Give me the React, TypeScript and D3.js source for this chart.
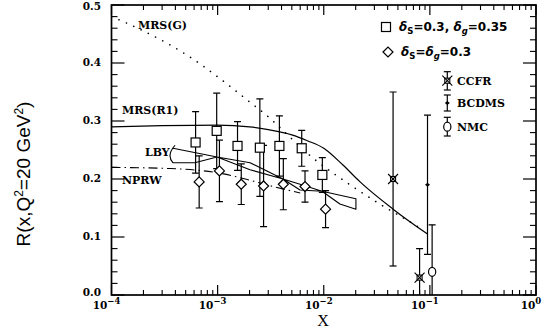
import React from "react";
import * as d3 from "d3";

// ---- data ----
const sqX = [6.2e-4, 9.8e-4, 1.54e-3, 2.5e-3, 3.82e-3, 6.2e-3, 9.7e-3];
const sqR = [0.263, 0.283, 0.257, 0.254, 0.257, 0.253, 0.207];
const sqErr = [0.053, 0.065, 0.042, 0.084, 0.052, 0.031, 0.03];

const diaX = [6.7e-4, 1.04e-3, 1.67e-3, 2.71e-3, 4.16e-3, 6.66e-3, 1.04e-2];
const diaR = [0.195, 0.214, 0.191, 0.188, 0.191, 0.187, 0.148];
const diaErr = [0.045, 0.053, 0.035, 0.07, 0.044, 0.027, 0.032];

const ccfrX = [0.045, 0.08];
const ccfrR = [0.2, 0.03];
const ccfrErr = [0.15, 0.05];

const bcdmsX = [0.095];
const bcdmsR = [0.19];
const bcdmsErr = [0.12];

const nmcX = [0.105];
const nmcR = [0.04];
const nmcErr = [0.081];

const mrsR1X = [1e-4, 3e-4, 1e-3, 2e-3, 3e-3, 5e-3, 7e-3, 1e-2, 1.5e-2, 2.2e-2, 4.5e-2, 9.5e-2];
const mrsR1R = [0.29, 0.292, 0.293, 0.29, 0.285, 0.276, 0.266, 0.253, 0.225, 0.195, 0.148, 0.105];

const mrsGX = [1e-4, 1.5e-4, 5.1e-4, 2e-3, 3.1e-3, 3.9e-3, 7.7e-3, 1.77e-2, 3.5e-2, 6.5e-2, 8.5e-2];
const mrsGR = [0.48, 0.466, 0.414, 0.333, 0.305, 0.288, 0.238, 0.19, 0.155, 0.126, 0.113];

const nprwX = [1e-4, 3.6e-4, 1.05e-3, 2e-3, 3.5e-3, 6e-3];
const nprwR = [0.22, 0.218, 0.21, 0.198, 0.186, 0.176];

const lbyAX = [3.8e-4, 9.87e-4, 2.02e-3, 4.13e-3, 5.98e-3, 9.64e-3, 2.01e-2];
const lbyAR = [0.253, 0.238, 0.228, 0.2, 0.191, 0.179, 0.166];
const lbyBX = [3.8e-4, 6.1e-4, 9.87e-4, 2.02e-3, 4.13e-3, 5.98e-3, 9.64e-3, 1.42e-2, 2.01e-2];
const lbyBR = [0.228, 0.228, 0.238, 0.216, 0.2, 0.181, 0.179, 0.157, 0.148];

const yMajor = [0, 0.1, 0.2, 0.3, 0.4, 0.5];
const yMajorLabels = ["0.0", "0.1", "0.2", "0.3", "0.4", "0.5"];
const xMajor = [1e-4, 1e-3, 1e-2, 1e-1, 1];
const xMajorExp = ["\u22124", "\u22123", "\u22122", "\u22121", "0"];

const SERIF = "'DejaVu Serif', serif";
const SANS = "'DejaVu Sans', sans-serif";

export default function App() {
  const L = 111.5, R = 536, T = 5, B = 295;
  const x = d3.scaleLog().domain([1e-4, 1]).range([L, R]);
  const y = d3.scaleLinear().domain([0, 0.5]).range([B, T]);

  const yMinor = d3.range(0, 0.5001, 0.02).filter((v) => Math.abs(v * 10 - Math.round(v * 10)) > 1e-6);
  const xMinor: number[] = [];
  for (let e = -4; e < 0; e++) for (let k = 2; k <= 9; k++) xMinor.push(k * Math.pow(10, e));

  const line = d3
    .line<[number, number]>()
    .x((d) => x(d[0]))
    .y((d) => y(d[1]))
    .curve(d3.curveMonotoneX);
  const zip = (a: number[], b: number[]) => a.map((v, i) => [v, b[i]] as [number, number]);

  const lbyA = zip(lbyAX, lbyAR);
  const lbyB = zip(lbyBX, lbyBR);
  const lin = d3
    .line<[number, number]>()
    .x((d) => x(d[0]))
    .y((d) => y(d[1]));
  const a0x = x(lbyA[0][0]), a0y = y(lbyA[0][1]);
  const b0x = x(lbyB[0][0]), b0y = y(lbyB[0][1]);
  const lbyPath =
    (lin(lbyA) as string) +
    (lin(lbyB.slice().reverse()) as string).replace(/^M/, "L") +
    `Q${b0x - 7},${(a0y + b0y) / 2} ${a0x + 2},${a0y - 3}`;

  const cap = 3.5;
  const errBar = (cx: number, v: number, e: number, key: string) => (
    <g key={key}>
      <line x1={cx} x2={cx} y1={y(v + e)} y2={y(v - e)} />
      <line x1={cx - cap} x2={cx + cap} y1={y(v + e)} y2={y(v + e)} />
      <line x1={cx - cap} x2={cx + cap} y1={y(v - e)} y2={y(v - e)} />
    </g>
  );

  const square = (cx: number, cy: number, key: string) => (
    <rect key={key} x={cx - 4.5} y={cy - 4.5} width={9} height={9} fill="white" stroke="black" strokeWidth={1.2} />
  );
  const diamond = (cx: number, cy: number, key: string) => (
    <path key={key} d={`M${cx - 5},${cy} L${cx},${cy - 5} L${cx + 5},${cy} L${cx},${cy + 5} Z`} fill="white" stroke="black" strokeWidth={1.2} />
  );
  const star = (cx: number, cy: number, key: string) => (
    <g key={key} stroke="black" strokeWidth={1.1}>
      <rect x={cx - 2.5} y={cy - 2.5} width={5} height={5} fill="white" />
      <line x1={cx - 5} y1={cy - 5} x2={cx + 5} y2={cy + 5} />
      <line x1={cx - 5} y1={cy + 5} x2={cx + 5} y2={cy - 5} />
    </g>
  );
  const dot = (cx: number, cy: number, key: string) => (
    <path key={key} d={`M${cx - 2.5},${cy} L${cx},${cy - 2} L${cx + 2.5},${cy} L${cx},${cy + 2} Z`} fill="black" />
  );
  const circ = (cx: number, cy: number, key: string) => (
    <ellipse key={key} cx={cx} cy={cy} rx={3.6} ry={4.5} fill="white" stroke="black" strokeWidth={1.2} />
  );

  return (
    <svg width={544} height={328} style={{ position: "absolute", left: 0, top: 0, background: "white" }}>
      <defs>
        <clipPath id="plot">
          <rect x={L} y={T} width={R - L} height={B - T} />
        </clipPath>
      </defs>

      {/* curves */}
      <g clipPath="url(#plot)" fill="none" stroke="black">
        <path d={line(zip(mrsR1X, mrsR1R)) as string} strokeWidth={1.2} />
        <path d={line(zip(mrsGX, mrsGR)) as string} strokeWidth={1.6} strokeDasharray="0.1 8" strokeLinecap="round" />
        <path d={line(zip(nprwX, nprwR)) as string} strokeWidth={1.1} strokeDasharray="9 4 1.5 4" />
        <path d={lbyPath} strokeWidth={1.1} strokeLinejoin="round" />
      </g>

      {/* error bars */}
      <g clipPath="url(#plot)" stroke="black" strokeWidth={1.2}>
        {sqX.map((v, i) => errBar(x(v), sqR[i], sqErr[i], "se" + i))}
        {diaX.map((v, i) => errBar(x(v), diaR[i], diaErr[i], "de" + i))}
        {ccfrX.map((v, i) => errBar(x(v), ccfrR[i], ccfrErr[i], "ce" + i))}
        {bcdmsX.map((v, i) => errBar(x(v), bcdmsR[i], bcdmsErr[i], "be" + i))}
        {nmcX.map((v, i) => errBar(x(v), nmcR[i], nmcErr[i], "ne" + i))}
      </g>
      <g>
        {sqX.map((v, i) => square(x(v), y(sqR[i]), "s" + i))}
        {diaX.map((v, i) => diamond(x(v), y(diaR[i]), "d" + i))}
        {ccfrX.map((v, i) => star(x(v), y(ccfrR[i]), "c" + i))}
        {bcdmsX.map((v, i) => dot(x(v), y(bcdmsR[i]), "b" + i))}
        {nmcX.map((v, i) => circ(x(v), y(nmcR[i]), "n" + i))}
      </g>

      {/* frame and ticks */}
      <g stroke="black" fill="none">
        <rect x={L} y={T} width={R - L} height={B - T} strokeWidth={1.7} />
        {yMajor.map((v, i) => (
          <g key={"ym" + i} strokeWidth={1.2}>
            <line x1={L} x2={L + 13} y1={y(v)} y2={y(v)} />
            <line x1={R - 13} x2={R} y1={y(v)} y2={y(v)} />
          </g>
        ))}
        {yMinor.map((v, i) => (
          <g key={"yn" + i} strokeWidth={1.1}>
            <line x1={L} x2={L + 6} y1={y(v)} y2={y(v)} />
            <line x1={R - 6} x2={R} y1={y(v)} y2={y(v)} />
          </g>
        ))}
        {xMajor.map((v, i) => (
          <g key={"xm" + i} strokeWidth={1.2}>
            <line x1={x(v)} x2={x(v)} y1={B} y2={B - 10} />
            <line x1={x(v)} x2={x(v)} y1={T} y2={T + 10} />
          </g>
        ))}
        {xMinor.map((v, i) => (
          <g key={"xn" + i} strokeWidth={1.1}>
            <line x1={x(v)} x2={x(v)} y1={B} y2={B - 5} />
            <line x1={x(v)} x2={x(v)} y1={T} y2={T + 5} />
          </g>
        ))}
      </g>

      {/* tick labels */}
      <g fontFamily={SERIF} fontWeight="bold" fontSize={10.5} fill="black">
        {yMajor.map((v, i) => (
          <text key={"yl" + i} x={101} y={Math.min(Math.max(y(v), 6.5), 292.5)} textAnchor="end" dominantBaseline="middle">
            {yMajorLabels[i]}
          </text>
        ))}
        {xMajor.map((v, i) => (
          <text key={"xl" + i} x={x(v) - 5} y={308.5} textAnchor="middle">
            10
            <tspan fontSize={8.5} dy={-4.5}>
              {xMajorExp[i]}
            </tspan>
          </text>
        ))}
      </g>

      {/* axis titles */}
      <text x={323} y={326} textAnchor="middle" fontFamily="'Liberation Serif', serif" fontSize={16}>
        X
      </text>
      <text
        transform="translate(30,174) rotate(-90)"
        textAnchor="middle"
        fontFamily="'Liberation Sans', sans-serif"
        fontSize={19}
      >
        R(x,Q<tspan fontSize={12} dy={-7}>2</tspan>
        <tspan dy={7}>=20 GeV</tspan>
        <tspan fontSize={12} dy={-7}>2</tspan>
        <tspan dy={7}>)</tspan>
      </text>

      {/* curve labels */}
      <g fontFamily={SERIF} fontWeight="bold" fontSize={11} fill="black">
        <text x={138} y={29}>MRS(G)</text>
        <text x={122} y={114}>MRS(R1)</text>
        <text x={145} y={156}>LBY</text>
        <text x={122} y={184}>NPRW</text>
      </g>

      {/* legend */}
      <g fontFamily={SANS} fontWeight="bold" fontSize={12} fill="black">
        {square(386, 27, "ls")}
        <text x={399} y={31}>
          <tspan fontStyle="italic">δ</tspan>
          <tspan fontSize={8.5} dy={3}>S</tspan>
          <tspan dy={-3}>=0.3,  </tspan>
          <tspan fontStyle="italic">δ</tspan>
          <tspan fontSize={8.5} fontStyle="italic" dy={3}>g</tspan>
          <tspan dy={-3}>=0.35</tspan>
        </text>
        {diamond(388, 52, "ld")}
        <text x={401} y={56}>
          <tspan fontStyle="italic">δ</tspan>
          <tspan fontSize={8.5} dy={3}>S</tspan>
          <tspan dy={-3}>=</tspan>
          <tspan fontStyle="italic">δ</tspan>
          <tspan fontSize={8.5} fontStyle="italic" dy={3}>g</tspan>
          <tspan dy={-3}>=0.3</tspan>
        </text>
      </g>
      <g stroke="black" strokeWidth={1.2}>
        <line x1={447.3} x2={447.3} y1={71.7} y2={90} />
        <line x1={443.8} x2={450.8} y1={71.7} y2={71.7} />
        <line x1={443.8} x2={450.8} y1={90} y2={90} />
        <line x1={447.3} x2={447.3} y1={95} y2={111} />
        <line x1={443.8} x2={450.8} y1={95} y2={95} />
        <line x1={443.8} x2={450.8} y1={111} y2={111} />
        <line x1={447.3} x2={447.3} y1={117.3} y2={136} />
        <line x1={443.8} x2={450.8} y1={117.3} y2={117.3} />
        <line x1={443.8} x2={450.8} y1={136} y2={136} />
      </g>
      {star(447.3, 80.7, "lc")}
      {dot(447.3, 103, "lb")}
      {circ(447.3, 126.7, "ln")}
      <g fontFamily={SERIF} fontWeight="bold" fontSize={11} fill="black">
        <text x={457} y={84.5}>CCFR</text>
        <text x={457} y={107}>BCDMS</text>
        <text x={457} y={130.5}>NMC</text>
      </g>
    </svg>
  );
}
